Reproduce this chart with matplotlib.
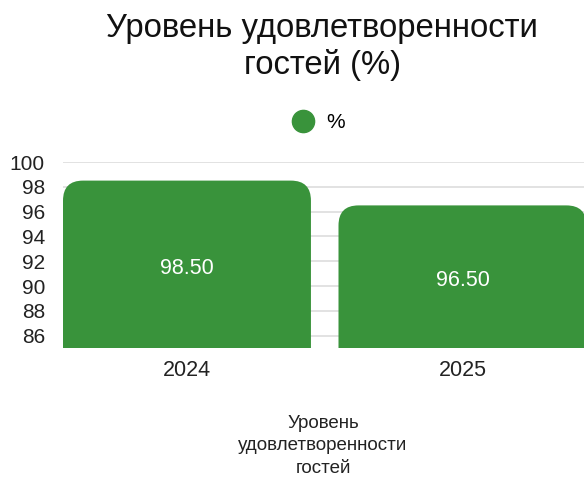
import matplotlib
matplotlib.use("Agg")
import matplotlib.pyplot as plt
from matplotlib.patches import FancyBboxPatch
from matplotlib.lines import Line2D

plt.rcParams['font.family'] = ['Liberation Sans', 'DejaVu Sans']

# data
years = ['2024', '2025']
values = [98.50, 96.50]
yticks = [86, 88, 90, 92, 94, 96, 98, 100]
title = 'Уровень удовлетворенности\nгостей (%)'
xlabel = 'Уровень\nудовлетворенности\nгостей'
series_name = '%'

green = '#39933b'

W, H = 584, 479
fig = plt.figure(figsize=(W / 100, H / 100), dpi=100)
ax = fig.add_axes([63 / W, (H - 348) / H, 551 / W, 186 / H])

ax.set_xlim(-0.45, 1.55)
ax.set_ylim(85, 100)

xs = list(range(len(years)))
base = 80
bars = ax.bar(xs, [v - base for v in values], width=0.9, bottom=base, color=green)

# swap plain bars for ones with rounded top corners
px_x = 551 / 2.0   # px per x unit
px_y = 186 / 15.0  # px per y unit
radius_px = 20
for b in bars:
    x0, y0, w, h = b.get_x(), b.get_y(), b.get_width(), b.get_height()
    b.remove()
    p = FancyBboxPatch((x0, y0), w, h,
                       boxstyle=f'round,pad=0,rounding_size={radius_px / px_x}',
                       mutation_aspect=px_x / px_y,
                       facecolor=green, edgecolor='none', zorder=2)
    ax.add_patch(p)

for x, v in zip(xs, values):
    ax.text(x, v - (v - 85) / 2 - 0.3, f'{v:.2f}', ha='center', va='center',
            color='white', fontsize=15.5, zorder=3)

ax.set_yticks(yticks)
ax.set_xticks(xs)
ax.set_xticklabels(years)
ax.tick_params(axis='y', length=0, pad=13, labelsize=15, labelcolor='#222222')
ax.tick_params(axis='x', length=0, pad=9, labelsize=15.5, labelcolor='#222222')
ax.grid(axis='y', color='#dddddd', linewidth=1.2, zorder=0)
ax.set_axisbelow(True)
for s in ax.spines.values():
    s.set_visible(False)

fig.text(322 / W, 1 - 13 / H, title, ha='center', va='top', fontsize=23.7,
         color='#111111', linespacing=1.2)

handle = Line2D([], [], marker='o', linestyle='none', markersize=16,
                markerfacecolor=green, markeredgecolor=green)
fig.legend([handle], [series_name], loc='center',
           bbox_to_anchor=(318 / W, 1 - 123 / H), frameon=False,
           fontsize=15, handletextpad=0.5, handlelength=1.2)

fig.text(323 / W, 1 - 446 / H, xlabel, ha='center', va='center',
         fontsize=13.5, color='#222222', linespacing=1.4)

fig.savefig('out.png', dpi=100)
